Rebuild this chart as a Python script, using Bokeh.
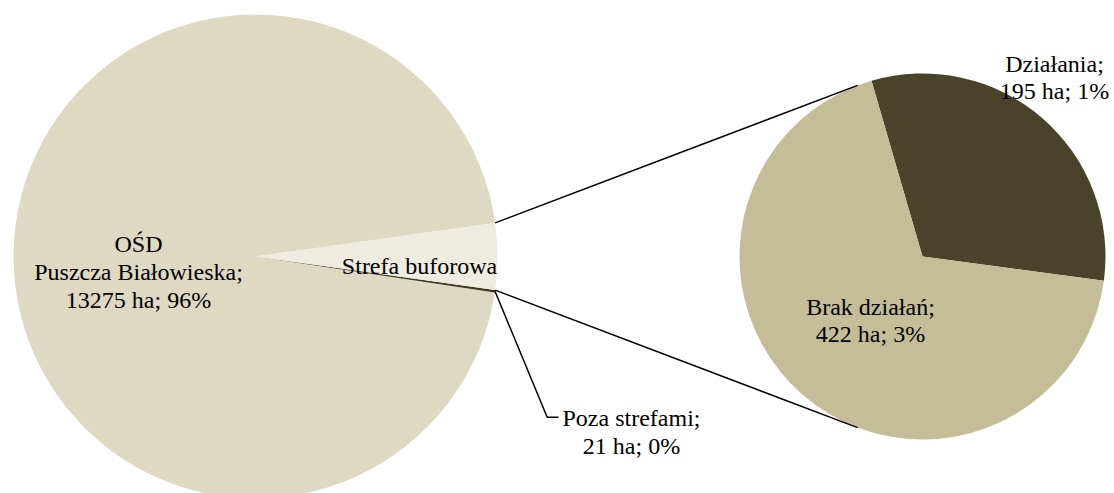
import math
from bokeh.plotting import figure
from bokeh.models import Range1d
from bokeh.core.properties import value
from bokeh.embed import file_html
from bokeh.resources import INLINE

# ---------------- data ----------------
main_names = ["OŚD Puszcza Białowieska", "Poza strefami", "Strefa buforowa"]
main_values = [13275, 21, 617]
sub_names = ["Działania", "Brak działań"]
sub_values = [195, 422]
main_label_lines = [["OŚD", "Puszcza Białowieska;", "13275 ha; 96%"],
                    ["Poza strefami;", "21 ha; 0%"],
                    ["Strefa buforowa"]]
sub_label_lines = [["Działania;", "195 ha; 1%"],
                   ["Brak działań;", "422 ha; 3%"]]
main_colors = ["#DDD9C3", "#3F3B22", "#EEECE1"]
sub_colors = ["#494429", "#C4BD97"]

# ---------------- layout (reference pixel space, y down) ----------------
W, H = 1114, 493
def Y(py):
    return H - py

main_c = (255, Y(256)); main_r = 242
sub_c = (922, Y(256)); sub_r = 183
sub_start_deg = -7.6
font = value("Liberation Serif")
fsize = "24px"

p = figure(width=W, height=H, x_range=Range1d(0, W), y_range=Range1d(0, H),
           output_backend="svg", toolbar_location=None, min_border=0,
           x_axis_location=None, y_axis_location=None)
p.grid.visible = False
p.outline_line_color = None
p.background_fill_color = "white"

# ---------------- main pie ----------------
total = sum(main_values)
ang = [v / total * 2 * math.pi for v in main_values]
other_start = -ang[2] / 2
other_end = ang[2] / 2
starts = [other_end, other_start - ang[1], other_start]
ends = [other_end + ang[0], other_start, other_end]
p.wedge(x=[main_c[0]] * 3, y=[main_c[1]] * 3, radius=main_r,
        start_angle=starts, end_angle=ends, fill_color=main_colors, line_color=None)

# ---------------- secondary pie ----------------
sub_total = sum(sub_values)
s_ang = [v / sub_total * 2 * math.pi for v in sub_values]
s0 = math.radians(sub_start_deg)
s_starts = [s0, s0 + s_ang[0]]
s_ends = [s0 + s_ang[0], s0 + 2 * math.pi]
p.wedge(x=[sub_c[0]] * 2, y=[sub_c[1]] * 2, radius=sub_r,
        start_angle=s_starts, end_angle=s_ends, fill_color=sub_colors, line_color=None)

# ---------------- connector lines (tangents) ----------------
def edge(c, r, a):
    return (c[0] + r * math.cos(a), c[1] + r * math.sin(a))

def tangent(pt, c, r, upper):
    dx, dy = pt[0] - c[0], pt[1] - c[1]
    d = math.hypot(dx, dy)
    base = math.atan2(dy, dx)
    off = math.acos(r / d)
    a = base - off if upper else base + off
    return edge(c, r, a)

top_pt = edge(main_c, main_r, other_end)
bot_pt = edge(main_c, main_r, other_start)
top_t = tangent(top_pt, sub_c, sub_r, True)
bot_t = tangent(bot_pt, sub_c, sub_r, False)
p.segment(x0=[top_pt[0], bot_pt[0]], y0=[top_pt[1], bot_pt[1]],
          x1=[top_t[0], bot_t[0]], y1=[top_t[1], bot_t[1]],
          line_color="black", line_width=1.5)

# leader for "Poza strefami"
poza_mid = edge(main_c, main_r, (starts[1] + ends[1]) / 2)
p.line(x=[poza_mid[0], 546.7, 558], y=[poza_mid[1], Y(416.7), Y(416.7)],
       line_color="black", line_width=1.5)

# ---------------- labels ----------------
label_pos = {
    "main0": (138, [243, 271, 299]),
    "main1": (631, [417, 445]),
    "main2": (419, [265]),
    "sub0": (1054, [63, 90]),
    "sub1": (870, [306, 333]),
}
xs, ys, ts = [], [], []
for i, lines in enumerate(main_label_lines):
    cx, bys = label_pos["main%d" % i]
    for t, by in zip(lines, bys):
        xs.append(cx); ys.append(Y(by)); ts.append(t)
for i, lines in enumerate(sub_label_lines):
    cx, bys = label_pos["sub%d" % i]
    for t, by in zip(lines, bys):
        xs.append(cx); ys.append(Y(by)); ts.append(t)
p.text(x=xs, y=ys, text=ts, text_font=font, text_font_size=fsize,
       text_align="center", text_baseline="alphabetic", text_color="black")

open("out.html", "w").write(file_html(p, INLINE))
